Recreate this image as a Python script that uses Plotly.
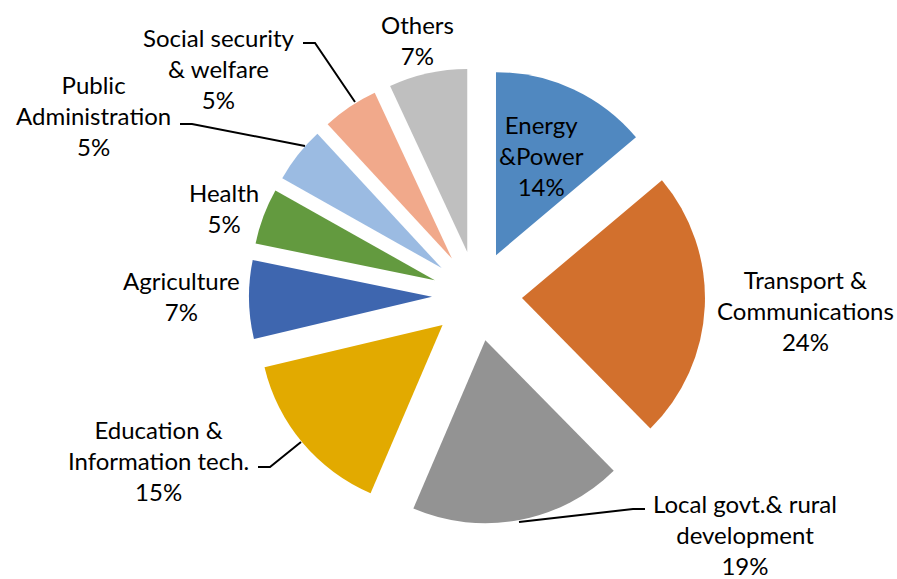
import plotly.graph_objects as go

categories = ["Energy<br>&Power", "Transport &<br>Communications", "Local govt.& rural<br>development",
              "Education &<br>Information tech.", "Agriculture", "Health", "Public<br>Administration",
              "Social security<br>& welfare", "Others"]
shares = [14, 24, 19, 15, 7, 5, 5, 5, 7]
colors = ["#5088C0", "#D2702D", "#939393", "#E2AA00", "#3E66AF", "#639A3F", "#9BBBE2", "#F1A98B", "#BFBFBF"]

W, H = 897, 579
cx, cy, R, pull = 477, 296, 183, 0.246
half = R * (1 + pull)

fig = go.Figure(go.Pie(
    labels=categories, values=shares, sort=False, direction="clockwise", rotation=0,
    marker=dict(colors=colors, line=dict(width=0)),
    pull=[pull] * len(shares), textinfo="none", hoverinfo="label+value",
    domain=dict(x=[(cx - half) / W, (cx + half) / W], y=[(H - cy - half) / H, (H - cy + half) / H]),
    showlegend=False,
))

# label block centres (px) for each category
label_pos = [(541, 155), (805, 311), (745, 534), (158, 460), (181, 296), (224, 208), (93, 116), (219, 68), (417, 40)]
for name, val, (lx, ly) in zip(categories, shares, label_pos):
    fig.add_annotation(x=lx / W, y=1 - ly / H, xref="paper", yref="paper", showarrow=False,
                       text=f"{name}<br>{val}%", font=dict(family="Lato", size=24, color="#000000"),
                       xanchor="center", yanchor="middle", align="center")

leaders = [
    [(303, 43), (315, 43), (355, 102)],
    [(180, 124), (192, 124), (305, 146)],
    [(258, 467), (270, 467), (301, 442)],
    [(645, 509), (633, 509), (519, 522)],
]
for pts in leaders:
    path = "M " + " L ".join(f"{x / W},{1 - y / H}" for x, y in pts)
    fig.add_shape(type="path", path=path, xref="paper", yref="paper", line=dict(color="#000000", width=2))

fig.update_layout(width=W, height=H, margin=dict(l=0, r=0, t=0, b=0),
                  paper_bgcolor="white", plot_bgcolor="white")
fig.write_html("out.html")
